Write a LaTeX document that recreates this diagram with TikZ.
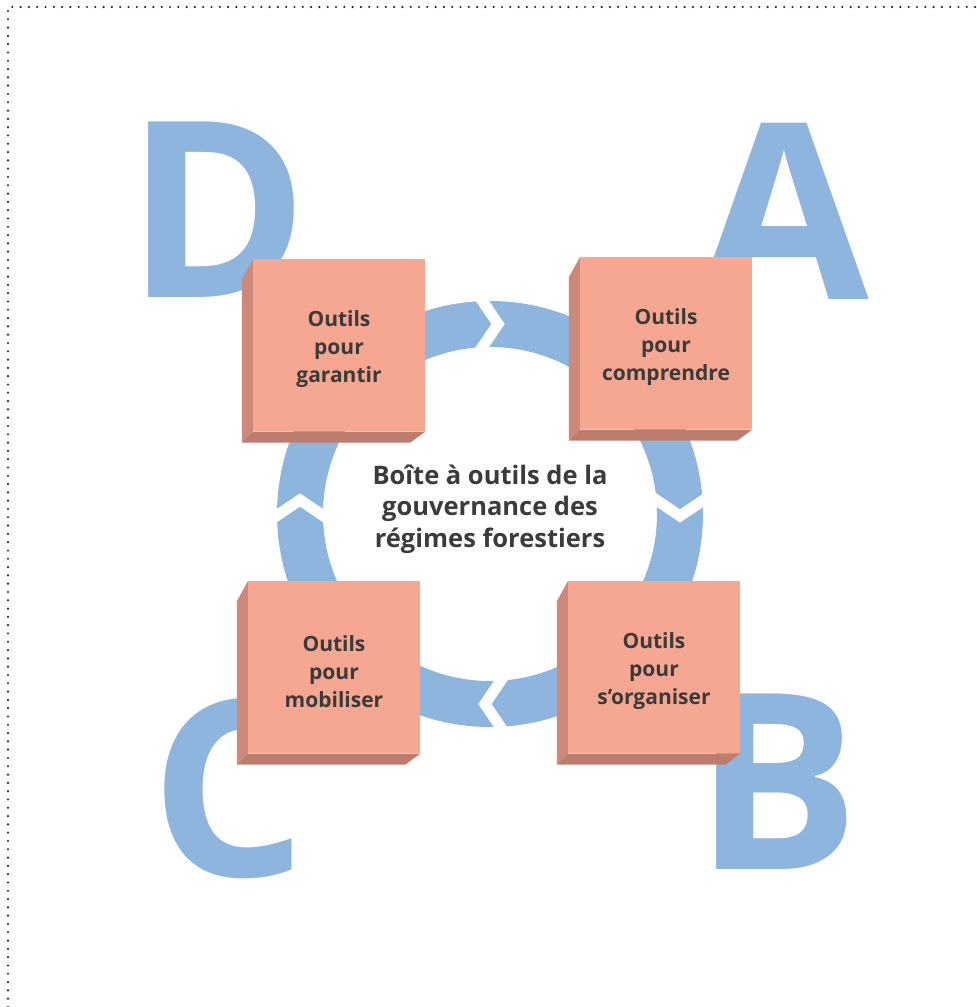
\documentclass[tikz,border=0pt]{standalone}
\usepackage{fontspec}
\setmainfont{Open Sans}
\usetikzlibrary{calc}
\definecolor{ringblue}{RGB}{141,181,222}
\definecolor{facecol}{RGB}{246,167,145}
\definecolor{sidecol}{RGB}{205,137,122}
\definecolor{botcol}{RGB}{188,125,111}
\definecolor{txtcol}{RGB}{59,59,59}
\begin{document}
\begin{tikzpicture}[x=1pt,y=1pt,
  frameline/.style={line width=2.4pt, line cap=round, dash pattern=on 0pt off 8.3pt, black!85},
  bigletter/.style={text=ringblue, font=\fontsize{246}{246}\selectfont\bfseries, inner sep=0pt, anchor=base},
  ringstyle/.style={draw=ringblue, line width=46pt},
  chevcut/.style={draw=white, line width=11pt, miter limit=10},
  boxface/.style={fill=facecol, minimum width=172pt, minimum height=172pt, inner sep=0pt},
  boxtext/.style={text=txtcol, align=center, font=\fontsize{21}{28}\selectfont\bfseries},
  centertext/.style={text=txtcol, align=center, font=\fontsize{25.5}{31.5}\selectfont\bfseries}
]
\useasboundingbox (0,0) rectangle (977,1007);
% dotted frame
\coordinate (fbl) at (8,0);
\coordinate (ftl) at (8,1000);
\coordinate (ftr) at (977,1000);
\draw[frameline] (fbl) -- (ftl) -- (ftr);
% big letters
\node[bigletter] (letD) at (218,709) {D};
\node[bigletter] (letA) at (784,707) {A};
\node[bigletter] (letC) at (229,130) {C};
\node[bigletter] (letB) at (777,137) {B};
% ring
\coordinate (ringc) at (490,493);
\draw[ringstyle] (ringc) circle[radius=190];
\foreach \rot/\tip in {0/8, -90/2, 180/5, 90/14}{
  \begin{scope}[shift={(490,493)}, rotate=\rot]
    \draw[chevcut] (\tip-21.6,222) -- (\tip,190) -- (\tip-21.6,158);
  \end{scope}
}
% boxes
\foreach \nm/\cx/\cy/\txt in {boxD/339/661.5/{Outils\\pour\\garantir},
                              boxA/666/663.5/{Outils\\pour\\comprendre},
                              boxB/654/339.5/{Outils\\pour\\s’organiser},
                              boxC/334/339.5/{Outils\\pour\\mobiliser}}{
  \node[boxface] (\nm) at (\cx,\cy) {};
  \fill[sidecol] (\nm.north west) -- ++(-11,-20) -- ($(\nm.south west)+(-11,-11)$) -- (\nm.south west) -- cycle;
  \fill[botcol] (\nm.south west) -- ++(-11,-11) -- ($(\nm.south east)+(-15,-11)$) -- (\nm.south east) -- cycle;
  \node[boxtext] (\nm-t) at ($(\nm.center)+(0,-4)$) {\txt};
}
% center text
\node[centertext] (title) at (490,498) {Boîte à outils de la\\gouvernance des\\régimes forestiers};
\end{tikzpicture}
\end{document}
